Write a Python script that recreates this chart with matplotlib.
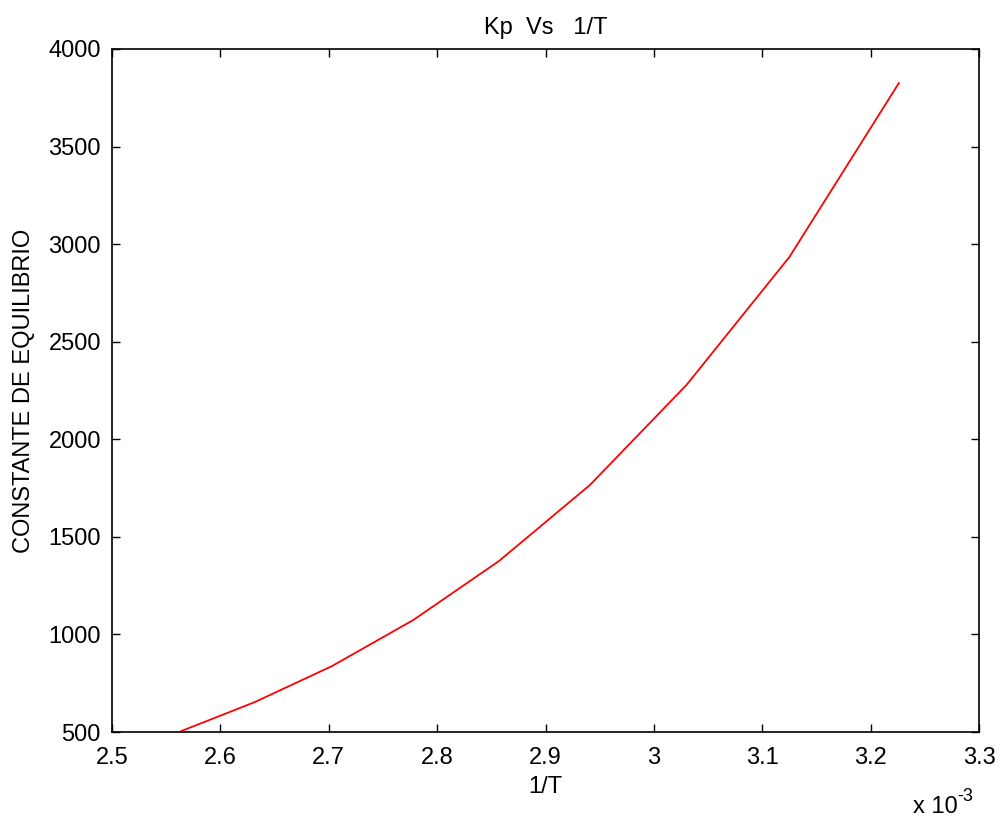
import numpy as np
import matplotlib.pyplot as plt
from matplotlib.ticker import FuncFormatter

plt.rcParams['font.family'] = ['Liberation Sans', 'DejaVu Sans']

# 1/T values (1/K) and equilibrium constant
inv_T = [2.564e-3, 2.632e-3, 2.703e-3, 2.778e-3, 2.857e-3,
         2.941e-3, 3.030e-3, 3.125e-3, 3.226e-3]
Kp = [505, 654, 838, 1074, 1376, 1766, 2278, 2934, 3825]

fig = plt.figure(figsize=(10.02, 8.19), dpi=100)
ax = fig.add_axes([0.1118, 0.1062, 0.8653, 0.834])

ax.plot(inv_T, Kp, color='red', linewidth=1.3)

ax.set_xlim(2.5e-3, 3.3e-3)
ax.set_ylim(500, 4000)
ax.set_xticks(np.arange(2.5e-3, 3.31e-3, 0.1e-3))
ax.set_yticks(np.arange(500, 4001, 500))
ax.xaxis.set_major_formatter(FuncFormatter(lambda v, p: ('%g' % round(v * 1e3, 2))))

ax.tick_params(direction='in', top=True, right=True, labelsize=17, length=6, width=1)
ax.tick_params(axis='x', pad=11)
ax.tick_params(axis='y', pad=8)
for s in ax.spines.values():
    s.set_linewidth(1.2)

ax.set_title('Kp  Vs   1/T', fontsize=17, pad=11)
ax.set_xlabel('1/T', fontsize=17, labelpad=5)
ax.set_ylabel('CONSTANTE DE EQUILIBRIO', fontsize=17, labelpad=10)

# exponent label, MATLAB style
ax.text(0.975, -0.1186, 'x 10', transform=ax.transAxes,
        fontsize=17, ha='right', va='baseline')
ax.annotate('-3', xy=(0.975, -0.1186), xycoords='axes fraction',
            xytext=(0, 9), textcoords='offset points',
            fontsize=13, ha='left', va='baseline', annotation_clip=False)

fig.savefig('out.png', dpi=100)
